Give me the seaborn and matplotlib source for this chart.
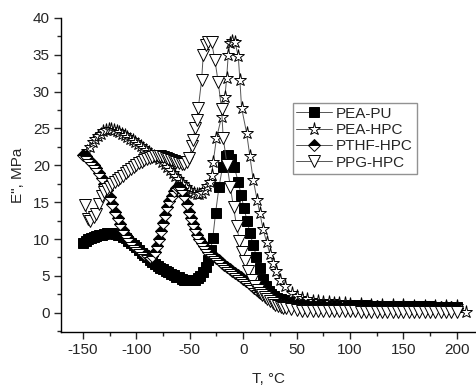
import matplotlib
matplotlib.use("Agg")
import matplotlib.pyplot as plt
from matplotlib.ticker import MultipleLocator
import seaborn as sns

# --- data (T in deg C, E'' in MPa) ---
pu_T = [-150, -147.5, -145, -142.5, -140, -137.5, -135, -132.5, -130, -127.5,
        -125, -122.5, -120, -117.5, -115, -112.5, -110, -107.5, -105, -102.5,
        -100, -97.5, -95, -92.5, -90, -87.5, -85, -82.5, -80, -77.5,
        -75, -72.5, -70, -67.5, -65, -62.5, -60, -57.5, -55, -52.5,
        -50, -47.5, -45, -42.5, -40, -37.5, -35, -32.5, -30.5, -28.4,
        -25.8, -22.7, -19.3, -16.5, -14, -11.5, -8.4, -4.7, -2, 0.7,
        3.8, 6.3, 9.4, 12.4, 15.6, 18.7, 21.5, 24, 26.5, 29,
        32, 35, 38, 42, 46, 50, 55, 60, 65, 70,
        75, 80, 85, 90, 95, 100, 105, 110, 115, 120,
        125, 130, 135, 140, 145, 150, 155, 160, 165, 170,
        175, 180, 185, 190, 195, 200]
pu_E = [9.4, 9.8, 10.0, 10.2, 10.3, 10.4, 10.5, 10.6, 10.7, 10.8,
        10.8, 10.8, 10.7, 10.6, 10.5, 10.3, 10.1, 9.8, 9.5, 9.2,
        8.9, 8.5, 8.1, 7.8, 7.5, 7.2, 6.9, 6.6, 6.4, 6.1,
        5.9, 5.7, 5.5, 5.3, 5.1, 4.9, 4.8, 4.6, 4.5, 4.4,
        4.4, 4.4, 4.5, 4.7, 5.0, 5.5, 6.2, 7.2, 8.5, 10.2,
        13.6, 17.0, 19.8, 21.2, 21.4, 20.9, 19.8, 17.8, 16.0, 14.2,
        12.4, 10.8, 9.2, 7.6, 6.1, 4.6, 3.6, 3.0, 2.6, 2.3,
        2.0, 1.85, 1.75, 1.65, 1.55, 1.5, 1.4, 1.35, 1.3, 1.25,
        1.2, 1.17, 1.14, 1.11, 1.08, 1.05, 1.03, 1.01, 0.99, 0.97,
        0.95, 0.94, 0.93, 0.92, 0.91, 0.9, 0.89, 0.88, 0.87, 0.86,
        0.85, 0.84, 0.83, 0.82, 0.81, 0.8]

hpc_T = [-146, -143.5, -141, -138.5, -136, -133.5, -131, -128.5, -126, -123.5,
         -121, -118.5, -116, -113.5, -111, -108.5, -106, -103.5, -101, -98.5,
         -96, -93.5, -91, -88.5, -86, -83.5, -81, -78.5, -76, -73.5,
         -71, -68.5, -66, -63.5, -61, -58.5, -56, -53.5, -51, -48.5,
         -46, -43.5, -41, -38.5, -36, -33.5, -31.5, -29.6, -28, -25,
         -20.2, -17.1, -15.5, -14, -12.4, -10, -7.8, -4.6, -3.1, -1.5,
         3.2, 6.3, 9.4, 13.1, 15.6, 18.7, 21.9, 25, 27.9, 31.1,
         34.3, 39, 45.3, 50, 54.7, 60, 65, 70, 75, 80,
         85, 90, 95, 100, 110, 120, 130, 140, 150, 160,
         170, 180, 190, 200, 209]
hpc_E = [21.9, 22.5, 23.1, 23.6, 24.0, 24.3, 24.6, 24.8, 24.9, 24.9,
         24.8, 24.7, 24.5, 24.3, 24.1, 23.9, 23.6, 23.4, 23.1, 22.9,
         22.6, 22.3, 22.1, 21.8, 21.6, 21.3, 21.1, 20.8, 20.5, 20.2,
         19.8, 19.4, 19.0, 18.6, 18.2, 17.8, 17.4, 17.0, 16.7, 16.4,
         16.2, 16.1, 16.1, 16.3, 16.7, 17.2, 17.8, 18.7, 20.5, 23.7,
         26.6, 29.3, 31.8, 35.0, 36.6, 36.9, 36.8, 34.8, 31.6, 27.8,
         24.4, 21.2, 18.0, 15.3, 13.5, 11.3, 9.6, 8.0, 6.7, 5.6,
         4.5, 3.6, 2.7, 2.3, 2.0, 1.8, 1.65, 1.55, 1.47, 1.4,
         1.35, 1.3, 1.26, 1.22, 1.16, 1.11, 1.07, 1.03, 1.0, 0.97,
         0.94, 0.91, 0.88, 0.85, 0.15]

pthf_T = [-150, -147.5, -145, -142.5, -140, -137.5, -135, -132.5, -130, -127.5,
          -125, -122.5, -120, -117.5, -115, -112.5, -110, -107.5, -105, -102.5,
          -100, -97.5, -95, -92.5, -90, -87.5, -85, -83, -81, -79,
          -77, -75, -73, -71, -69, -67, -65, -63, -61, -59,
          -57, -55, -53, -51, -49, -47, -45, -43, -41, -39,
          -37, -35, -32.5, -30, -27.5, -25, -22.5, -20, -17.5, -15,
          -12.5, -10, -7.5, -5, -2.5, 0, 2.5, 5, 7.5, 10,
          12.5, 15, 17.5, 20, 22.5, 25, 27.5, 30, 32.5, 35,
          40, 45, 50, 55, 60, 65, 70, 75, 80, 85,
          90, 95, 100, 105, 110, 115, 120, 125, 130, 135,
          140, 145, 150, 155, 160, 165, 170, 175, 180, 185,
          190, 195, 200]
pthf_E = [21.4, 21.2, 20.9, 20.5, 20.1, 19.6, 19.0, 18.3, 17.5, 16.6,
          15.7, 14.7, 13.7, 12.8, 12.0, 11.2, 10.6, 10.1, 9.6, 9.2,
          8.9, 8.6, 8.3, 8.0, 7.8, 7.6, 7.7, 8.2, 9.0, 10.0,
          11.1, 12.2, 13.3, 14.3, 15.2, 15.9, 16.5, 16.9, 17.1, 17.0,
          16.6, 15.8, 14.8, 13.7, 12.8, 12.0, 11.3, 10.6, 10.0, 9.5,
          9.0, 8.7, 8.3, 8.0, 7.7, 7.4, 7.1, 6.8, 6.5, 6.2,
          6.0, 5.7, 5.4, 5.1, 4.9, 4.6, 4.3, 4.0, 3.7, 3.4,
          3.1, 2.8, 2.6, 2.4, 2.2, 2.0, 1.85, 1.7, 1.6, 1.5,
          1.35, 1.25, 1.2, 1.15, 1.1, 1.06, 1.03, 1.0, 0.98, 0.96,
          0.94, 0.92, 0.9, 0.89, 0.88, 0.87, 0.86, 0.85, 0.84, 0.83,
          0.82, 0.81, 0.8, 0.79, 0.78, 0.77, 0.76, 0.75, 0.74, 0.73,
          0.72, 0.71, 0.7]

ppg_T = [-148, -145.5, -143, -140, -137.5, -135, -132.5, -130, -127.5, -125,
         -122.5, -120, -117.5, -115, -112.5, -110, -107.5, -105, -102.5, -100,
         -97.5, -95, -92.5, -90, -87.5, -85, -82.5, -80, -77.5, -75,
         -72.5, -70, -67.5, -65, -62.5, -60, -57.5, -55, -52.5, -50.5,
         -48.3, -46.8, -45.2, -43.6, -42, -38.9, -37.4, -35, -32.7, -29.6,
         -26.5, -23.4, -20.2, -18.7, -15, -12, -9, -6.2, -3.5, -1,
         1.6, 4.6, 7.8, 10.9, 13.5, 15.6, 18, 20.3, 22.5, 25,
         27.5, 30, 32.5, 35, 37.5, 40, 45, 50, 55, 60,
         65, 70, 75, 80, 85, 90, 95, 100, 105, 110,
         115, 120, 125, 130, 135, 140, 145, 150, 155, 160,
         165, 170, 175, 180, 185, 190, 195, 200]
ppg_E = [14.6, 12.7, 12.5, 13.0, 13.4, 14.8, 15.8, 16.4, 16.8, 17.1,
         17.4, 17.7, 18.0, 18.3, 18.6, 18.9, 19.2, 19.5, 19.8, 20.1,
         20.3, 20.5, 20.7, 20.9, 21.0, 21.1, 21.2, 21.2, 21.2, 21.1,
         21.0, 20.9, 20.7, 20.6, 20.4, 20.3, 20.2, 20.2, 20.4, 21.0,
         22.6, 23.4, 25.0, 26.2, 27.8, 31.6, 35.0, 36.3, 36.8, 36.7,
         34.3, 31.3, 27.6, 23.7, 20.0, 17.0, 14.3, 11.8, 9.8, 8.3,
         7.0, 5.6, 4.5, 3.6, 3.1, 2.7, 2.4, 2.2, 1.9, 1.6,
         1.35, 1.1, 0.95, 0.8, 0.7, 0.6, 0.45, 0.35, 0.3, 0.25,
         0.23, 0.22, 0.21, 0.2, 0.19, 0.18, 0.18, 0.17, 0.17, 0.16,
         0.16, 0.15, 0.15, 0.14, 0.14, 0.13, 0.13, 0.13, 0.12, 0.12,
         0.12, 0.11, 0.11, 0.11, 0.1, 0.1, 0.1, 0.1]

sns.set_style("ticks")
plt.rcParams['font.family'] = ['Liberation Sans', 'DejaVu Sans']
plt.rcParams['axes.unicode_minus'] = False

fig, ax = plt.subplots(figsize=(4.77, 3.9), dpi=100)
fig.subplots_adjust(left=0.128, right=0.998, bottom=0.149, top=0.954)

line_kw = dict(color='#555555', linewidth=0.7, markeredgecolor='black',
               markeredgewidth=0.7, sort=False, estimator=None, ax=ax)

sns.lineplot(x=pu_T, y=pu_E, marker='s', markersize=6.5,
             markerfacecolor='black', label='PEA-PU', **line_kw)
sns.lineplot(x=hpc_T, y=hpc_E, marker='*', markersize=9.5,
             markerfacecolor='white', label='PEA-HPC', **line_kw)
sns.lineplot(x=pthf_T, y=pthf_E, marker='D', markersize=6.5, fillstyle='top',
             markerfacecolor='black', markerfacecoloralt='white',
             label='PTHF-HPC', **line_kw)
sns.lineplot(x=ppg_T, y=ppg_E, marker='v', markersize=8,
             markerfacecolor='white', label='PPG-HPC', **line_kw)

ax.set_xlim(-170.5, 218)
ax.set_ylim(-2.6, 40)
ax.xaxis.set_major_locator(MultipleLocator(50))
ax.xaxis.set_minor_locator(MultipleLocator(25))
ax.yaxis.set_major_locator(MultipleLocator(5))
ax.yaxis.set_minor_locator(MultipleLocator(2.5))
ax.tick_params(which='major', direction='out', length=5, width=1, labelsize=11, pad=3)
ax.tick_params(which='minor', direction='out', length=3, width=1)
sns.despine(ax=ax)
for s in ['left', 'bottom']:
    ax.spines[s].set_linewidth(1)
    ax.spines[s].set_color('black')

ax.set_xlabel('T, °C', fontsize=11, labelpad=11)
ax.set_ylabel('E", MPa', fontsize=11, labelpad=6)

ax.legend(loc='upper left', bbox_to_anchor=(0.558, 0.729), frameon=True,
          fancybox=False, edgecolor='#777777', fontsize=11, handlelength=2.3,
          borderpad=0.25, labelspacing=0.15, handletextpad=0.3, borderaxespad=0)

plt.savefig("out.png", dpi=100)
